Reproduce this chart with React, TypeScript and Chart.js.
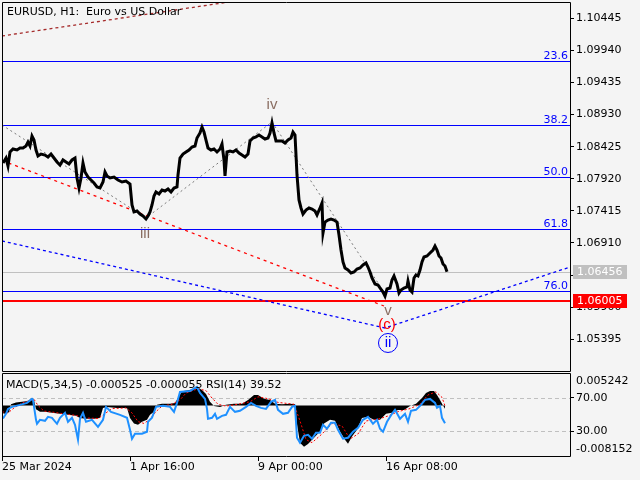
import React, { useEffect, useRef } from "react";
import { Chart, registerables } from "chart.js";

Chart.register(...registerables);

// ---------------- data ----------------
const chartTitle = "EURUSD, H1:  Euro vs US Dollar";
const subTitle = "MACD(5,34,5) -0.000525 -0.000055 RSI(14) 39.52";

const barMin = 0;
const barMax = 568;
const priceMin = 1.048805;
const priceMax = 1.107014;

const xTickBars = [0, 128, 256, 384];
const xTickLabels = ["25 Mar 2024", "1 Apr 16:00", "9 Apr 00:00", "16 Apr 08:00"];

const yTickPrices = [1.10445, 1.0994, 1.09435, 1.0893, 1.08425, 1.0792, 1.07415, 1.0691, 1.06405, 1.059, 1.05395];

const priceBars = [
  1, 4, 6, 8, 11, 15, 18, 21, 24, 26, 28, 30, 32, 34, 36, 39, 43, 46, 49, 52,
  55, 58, 61, 64, 67, 70, 73, 75, 77, 79, 81, 83, 86, 89, 92, 95, 98, 101, 103, 105,
  108, 112, 116, 120, 124, 128, 130, 132, 135, 138, 141, 144, 146, 148, 150, 152, 154, 157, 160, 163,
  166, 169, 172, 175, 176, 178, 181, 184, 187, 190, 193, 195, 198, 200, 202, 204, 206, 209, 212, 215,
  218, 220, 222, 223, 225, 228, 231, 234, 237, 240, 243, 246, 248, 251, 254, 257, 260, 263, 266, 268,
  270, 272, 274, 277, 280, 283, 286, 289, 291, 293, 295, 297, 299, 301, 304, 307, 310, 313, 315, 318,
  320, 321, 323, 326, 329, 332, 335, 337, 339, 341, 343, 346, 349, 352, 355, 358, 361, 364, 366, 368,
  370, 373, 376, 378, 381, 383, 385, 388, 390, 392, 395, 397, 399, 402, 405, 406, 408, 410, 412, 414,
  416, 418, 420, 422, 425, 428, 431, 433, 435, 437, 439, 441, 443, 445,
];
const priceClose = [
  1.08169, 1.08247, 1.08121, 1.08342, 1.08389, 1.08373, 1.08405, 1.08405, 1.08436, 1.08499, 1.08436, 1.08593, 1.0853, 1.08373, 1.08279, 1.0831, 1.08294, 1.08263, 1.0831, 1.08247,
  1.08184, 1.08137, 1.08216, 1.08184, 1.08153, 1.08216, 1.08247, 1.07933, 1.07775, 1.07933, 1.08169, 1.08027, 1.07948, 1.07901, 1.07854, 1.07791, 1.07775, 1.0787, 1.08027, 1.07964,
  1.07933, 1.07948, 1.07901, 1.0787, 1.07885, 1.07838, 1.07508, 1.07398, 1.07413, 1.07366, 1.07335, 1.07288, 1.07335, 1.07398, 1.07508, 1.07649, 1.07712, 1.07681, 1.07744, 1.07728,
  1.0776, 1.07712, 1.07775, 1.07791, 1.0798, 1.08247, 1.0831, 1.08342, 1.08373, 1.0842, 1.08436, 1.08562, 1.08641, 1.08735, 1.08656, 1.0853, 1.08405, 1.08373, 1.08389, 1.08342,
  1.08389, 1.08468, 1.08216, 1.07964, 1.08342, 1.08357, 1.08342, 1.08373, 1.08326, 1.08294, 1.08263, 1.0831, 1.08515, 1.08562, 1.08578, 1.08609, 1.08578, 1.08546, 1.08562, 1.08641,
  1.08798, 1.08641, 1.08515, 1.08515, 1.08515, 1.08483, 1.0853, 1.08562, 1.08656, 1.08609, 1.0798, 1.07587, 1.07461, 1.07366, 1.07429, 1.07461, 1.07445, 1.07413, 1.07351, 1.07461,
  1.07539, 1.07067, 1.0724, 1.07272, 1.07288, 1.07272, 1.0724, 1.07036, 1.068, 1.06611, 1.06517, 1.06485, 1.06438, 1.06454, 1.06501, 1.06517, 1.06564, 1.06595, 1.06532, 1.06454,
  1.06359, 1.06265, 1.06249, 1.06202, 1.06139, 1.06076, 1.06186, 1.06202, 1.06328, 1.06391, 1.06265, 1.06123, 1.06171, 1.06202, 1.06218, 1.06312, 1.06171, 1.06139, 1.06359, 1.06407,
  1.06391, 1.06485, 1.06611, 1.0669, 1.06706, 1.06753, 1.068, 1.06863, 1.068, 1.06706, 1.06674, 1.0658, 1.06548, 1.06456,
];

const fibLabels = ["23.6", "38.2", "50.0", "61.8", "76.0"];
const fibPrices = [1.09769, 1.08763, 1.07947, 1.07132, 1.06154];
const bidPrice = 1.06456;
const alertPrice = 1.06005;

const waveBars = [0, 144, 270, 384];
const wavePrices = [1.08766, 1.07303, 1.08814, 1.06092];
const redTrendBars = [0, 382];
const redTrendPrices = [1.08208, 1.05919];
const blueTrendBars = [0, 383, 568];
const blueTrendPrices = [1.06942, 1.05573, 1.06532];
const brownTrendBars = [0, 300];
const brownTrendPrices = [1.10167, 1.10874];

const waveLabelTexts = ["iii", "iv", "v", "(c)", "ii"];
const waveLabelBars = [143, 270, 386, 385, 386];
const waveLabelPrices = [1.07052, 1.09081, 1.0584, 1.0562, 1.05337];

// indicator panel
const rsiBars = [
  1, 4, 6, 10, 18, 25, 30, 31, 34, 35, 38, 43, 46, 50, 55, 58, 63, 66, 70, 73,
  75, 76, 78, 81, 84, 90, 96, 101, 104, 109, 118, 125, 128, 130, 133, 140, 145, 146, 150, 154,
  161, 168, 172, 175, 178, 188, 195, 198, 203, 205, 206, 210, 213, 215, 220, 224, 228, 233, 238, 244,
  249, 254, 259, 264, 269, 273, 276, 281, 286, 290, 293, 295, 298, 302, 306, 310, 314, 318, 321, 325,
  329, 333, 336, 341, 346, 351, 356, 361, 366, 371, 375, 378, 381, 385, 390, 393, 398, 403, 406, 409,
  414, 419, 423, 428, 433, 435, 438, 440, 443,
];
const rsiValues = [
  45.2, 50.8, 56.8, 59.2, 61.6, 64.0, 68.8, 67.6, 43.6, 38.8, 43.6, 42.4, 47.2, 46.0, 38.8, 46.0, 52.0, 41.2, 46.0, 37.6,
  25.6, 19.6, 44.8, 52.0, 41.2, 43.6, 35.2, 43.6, 59.2, 53.2, 49.6, 46.0, 31.6, 20.8, 26.8, 26.8, 29.2, 41.2, 46.0, 59.2,
  60.4, 59.2, 53.2, 64.0, 77.2, 78.4, 83.2, 76.0, 68.8, 56.8, 44.8, 46.0, 50.8, 44.8, 48.4, 49.6, 59.2, 53.2, 54.4, 59.2,
  64.0, 60.4, 58.0, 56.8, 65.2, 67.6, 55.6, 50.8, 52.0, 59.2, 60.4, 22.0, 16.0, 24.4, 25.6, 20.8, 28.0, 28.0, 37.6, 32.8,
  40.0, 40.0, 31.6, 20.8, 22.0, 29.2, 34.0, 43.6, 47.2, 38.8, 43.6, 32.8, 29.2, 41.2, 50.8, 55.6, 44.8, 50.8, 41.2, 54.4,
  55.6, 61.6, 67.6, 68.8, 64.0, 58.0, 60.4, 46.0, 39.52,
];

const macdBars = [
  0, 3, 7, 9, 14, 20, 26, 30, 32, 34, 38, 43, 50, 58, 66, 74, 78, 84, 92, 98,
  101, 105, 115, 125, 128, 132, 136, 140, 145, 148, 152, 155, 160, 168, 173, 176, 180, 188, 195, 200,
  204, 208, 212, 218, 224, 232, 240, 246, 252, 256, 262, 268, 273, 280, 288, 293, 295, 298, 302, 306,
  312, 318, 322, 328, 333, 338, 343, 346, 350, 355, 360, 366, 372, 378, 384, 390, 396, 402, 408, 414,
  420, 424, 428, 432, 435, 438, 441, 443,
];
const macdValues = [
  -0.0012, -0.00135, -0.0011, 0.0002, 0.0005, 0.0006, 0.00074, 0.00122, 0.0009, -0.0006, -0.00103, -0.00103, -0.00119, -0.00135, -0.0015, -0.00167, -0.002, -0.00215, -0.00215, -0.002,
  -0.0004, -0.00023, -0.00039, -0.00039, -0.002, -0.0029, -0.00312, -0.00264, -0.00232, -0.0015, -0.00103, 0.0001, 0.00026, 0.00026, 0.0004, 0.00122, 0.0023, 0.00251, 0.00299, 0.00251,
  0.00186, 0.0006, -0.0001, -0.00023, 0.0001, 0.00026, 0.00026, 0.0009, 0.0017, 0.0017, 0.0011, 0.0009, 0.00026, 0.0002, 0.00026, 0.0002, -0.003, -0.006, -0.00666, -0.0062,
  -0.00521, -0.0042, -0.0029, -0.00232, -0.00248, -0.0042, -0.00553, -0.00617, -0.005, -0.00392, -0.002, -0.00183, -0.00232, -0.00232, -0.00135, -0.00119, -0.00071, -0.00071, -0.0001, 0.00026,
  0.0012, 0.002, 0.00235, 0.00235, 0.0017, 0.0009, 0.0, -0.000525,
];

const signalBars = [
  0, 6, 12, 20, 28, 32, 36, 42, 52, 62, 74, 82, 96, 104, 110, 124, 130, 136, 142, 148,
  154, 160, 170, 178, 184, 196, 204, 210, 216, 224, 236, 248, 256, 266, 276, 292, 298, 304, 310, 320,
  330, 340, 348, 356, 364, 376, 386, 396, 408, 418, 426, 434, 440, 443,
];
const signalValues = [
  -0.001, -0.0012, -0.0004, 0.0004, 0.0008, 0.001, 0.0, -0.0009, -0.0011, -0.00135, -0.0016, -0.002, -0.0021, -0.0012, -0.0005, -0.0004, -0.0012, -0.0026, -0.0029, -0.0022,
  -0.001, -0.0001, 0.0002, 0.0009, 0.002, 0.0027, 0.0024, 0.0012, 0.0002, -0.0001, 0.0002, 0.0006, 0.0014, 0.0011, 0.0005, 0.0002, -0.0025, -0.0055, -0.006, -0.0046,
  -0.0029, -0.0033, -0.0054, -0.0046, -0.0025, -0.0022, -0.0017, -0.001, -0.0005, 0.0002, 0.0017, 0.0022, 0.0013, -0.000055,
];

const rsiLevels = [70, 30];
const macdMin = -0.008152;
const macdMax = 0.005242;
const subTickValues = [90.4, 70, 30, 8.2];
const subTickLabels = ["0.005242", "70.00", "30.00", "-0.008152"];

// ---------------- styles ----------------
const BG = "#f4f4f4";
const FONT = "'DejaVu Sans', Verdana, sans-serif";
const LABEL_FONT = "'Liberation Sans', Arial, sans-serif";
const FIB_LINE = "#0000ff";
const FIB_TEXT = "#0000ff";
const WAVE_COLORS = ["#8a6e62", "#8a6e62", "#8a6e62", "#ff0000", "#0000ff"];

const pts = (xs: number[], ys: number[]) => xs.map((x, i) => ({ x, y: ys[i] }));

function hline(ctx: CanvasRenderingContext2D, a: any, y: number) {
  ctx.beginPath();
  ctx.moveTo(a.left, y);
  ctx.lineTo(a.right, y);
  ctx.stroke();
}

const mainDecor = {
  id: "mainDecor",
  beforeDraw(chart: any) {
    const { ctx, width, height } = chart;
    ctx.save();
    ctx.fillStyle = BG;
    ctx.fillRect(0, 0, width, height);
    ctx.restore();
  },
  beforeDatasetsDraw(chart: any) {
    const { ctx, chartArea: a, scales } = chart;
    const ys = scales.y;
    const crisp = (v: number) => Math.round(ys.getPixelForValue(v)) + 0.5;
    ctx.save();
    ctx.lineWidth = 1;
    ctx.strokeStyle = "#c0c0c0";
    hline(ctx, a, crisp(bidPrice));
    ctx.strokeStyle = FIB_LINE;
    fibPrices.forEach((p) => hline(ctx, a, crisp(p)));
    ctx.strokeStyle = "#ff0000";
    ctx.lineWidth = 2;
    hline(ctx, a, Math.round(ys.getPixelForValue(alertPrice)));
    ctx.restore();
  },
  afterDatasetsDraw(chart: any) {
    const { ctx, chartArea: a, scales } = chart;
    const xs = scales.x;
    const ys = scales.y;
    const crisp = (v: number) => Math.round(ys.getPixelForValue(v)) + 0.5;
    ctx.save();
    // fib labels
    ctx.font = `11px ${FONT}`;
    ctx.fillStyle = FIB_TEXT;
    ctx.textAlign = "right";
    ctx.textBaseline = "alphabetic";
    fibPrices.forEach((p, i) => ctx.fillText(fibLabels[i], a.right - 2, crisp(p) - 3));
    // wave labels
    ctx.font = `15px ${LABEL_FONT}`;
    ctx.textAlign = "center";
    ctx.textBaseline = "middle";
    waveLabelTexts.forEach((t, i) => {
      const px = xs.getPixelForValue(waveLabelBars[i]);
      const py = ys.getPixelForValue(waveLabelPrices[i]);
      ctx.fillStyle = WAVE_COLORS[i];
      ctx.fillText(t, px, py);
      if (t === "ii") {
        ctx.strokeStyle = WAVE_COLORS[i];
        ctx.lineWidth = 1;
        ctx.beginPath();
        ctx.arc(px, py, 9.5, 0, Math.PI * 2);
        ctx.stroke();
      }
    });
    // title
    ctx.font = `11px ${FONT}`;
    ctx.fillStyle = "#000";
    ctx.textAlign = "left";
    ctx.fillText(chartTitle, 7, 12);
    // frame
    ctx.strokeStyle = "#000";
    ctx.lineWidth = 1;
    ctx.beginPath();
    ctx.moveTo(a.left + 0.5, a.top + 0.5);
    ctx.lineTo(a.right + 0.5, a.top + 0.5);
    ctx.lineTo(a.right + 0.5, a.bottom - 0.5);
    ctx.lineTo(a.left + 0.5, a.bottom - 0.5);
    ctx.closePath();
    ctx.stroke();
    // price boxes on the axis
    const boxes = [
      { v: bidPrice, c: "#c0c0c0" },
      { v: alertPrice, c: "#ff0000" },
    ];
    boxes.forEach((b) => {
      const py = Math.round(ys.getPixelForValue(b.v));
      ctx.fillStyle = b.c;
      ctx.fillRect(a.right + 3, py - 7, 54, 14);
      ctx.fillStyle = "#ffffff";
      ctx.textAlign = "left";
      ctx.textBaseline = "middle";
      ctx.fillText(b.v.toFixed(5), a.right + 7, py);
    });
    ctx.restore();
  },
};

const subDecor = {
  id: "subDecor",
  beforeDraw(chart: any) {
    const { ctx, width, height } = chart;
    ctx.save();
    ctx.fillStyle = BG;
    ctx.fillRect(0, 0, width, height);
    ctx.restore();
  },
  beforeDatasetsDraw(chart: any) {
    const { ctx, chartArea: a, scales } = chart;
    const ys = scales.y;
    ctx.save();
    ctx.strokeStyle = "#c0c0c0";
    ctx.lineWidth = 1;
    ctx.setLineDash([4, 3]);
    rsiLevels.forEach((v) => hline(ctx, a, Math.round(ys.getPixelForValue(v)) + 0.5));
    ctx.restore();
  },
  afterDatasetsDraw(chart: any) {
    const { ctx, chartArea: a } = chart;
    ctx.save();
    ctx.font = `11px ${FONT}`;
    ctx.fillStyle = "#000";
    ctx.textAlign = "left";
    ctx.textBaseline = "middle";
    ctx.fillText(subTitle, 6, 13);
    ctx.strokeStyle = "#000";
    ctx.lineWidth = 1;
    ctx.beginPath();
    ctx.moveTo(a.left + 0.5, a.top + 0.5);
    ctx.lineTo(a.right + 0.5, a.top + 0.5);
    ctx.lineTo(a.right + 0.5, a.bottom + 0.5);
    ctx.lineTo(a.left + 0.5, a.bottom + 0.5);
    ctx.closePath();
    ctx.stroke();
    ctx.restore();
  },
};

const common = {
  responsive: false,
  animation: false as const,
  devicePixelRatio: 1,
  events: [] as any[],
  plugins: { legend: { display: false }, tooltip: { enabled: false } },
  elements: { point: { radius: 0 }, line: { tension: 0 } },
};

function MainPanel() {
  const ref = useRef<HTMLCanvasElement>(null);
  useEffect(() => {
    const chart = new Chart(ref.current as HTMLCanvasElement, {
      type: "line",
      data: {
        datasets: [
          { data: pts(priceBars, priceClose), borderColor: "#000", borderWidth: 3, order: 0 } as any,
          { data: pts(waveBars, wavePrices), borderColor: "#7a7a7a", borderWidth: 1, borderDash: [2, 3], order: 1 },
          { data: pts(redTrendBars, redTrendPrices), borderColor: "#ff0000", borderWidth: 1.3, borderDash: [3, 4], order: 2 },
          { data: pts(blueTrendBars, blueTrendPrices), borderColor: "#0000ff", borderWidth: 1.3, borderDash: [3, 3], order: 3 },
          { data: pts(brownTrendBars, brownTrendPrices), borderColor: "#a52a2a", borderWidth: 1.3, borderDash: [3, 3], order: 4 },
        ],
      },
      options: {
        ...common,
        layout: { padding: { left: 2, top: 2, right: 0, bottom: 0 } },
        scales: {
          x: { type: "linear", min: barMin, max: barMax, display: false },
          y: {
            type: "linear",
            position: "right",
            min: priceMin,
            max: priceMax,
            afterBuildTicks: (s: any) => {
              s.ticks = yTickPrices.map((v) => ({ value: v }));
            },
            afterFit: (s: any) => {
              s.width = 70;
              s.paddingTop = 0;
              s.paddingBottom = 0;
            },
            ticks: {
              autoSkip: false,
              padding: 2,
              color: "#000",
              font: { family: FONT, size: 11 },
              callback: (v: any) => Number(v).toFixed(5),
            },
            grid: { drawOnChartArea: false, drawTicks: true, tickLength: 4, color: "#000" },
            border: { display: false },
          },
        },
      } as any,
      plugins: [mainDecor],
    });
    return () => chart.destroy();
  }, []);
  return <canvas ref={ref} width={640} height={372} style={{ display: "block", width: 640, height: 372 }} />;
}

function SubPanel() {
  const ref = useRef<HTMLCanvasElement>(null);
  useEffect(() => {
    const chart = new Chart(ref.current as HTMLCanvasElement, {
      type: "line",
      data: {
        datasets: [
          { data: pts(rsiBars, rsiValues), yAxisID: "y", borderColor: "#1e90ff", borderWidth: 2, order: 0 } as any,
          { data: pts(signalBars, signalValues), yAxisID: "ym", borderColor: "#ff0000", borderWidth: 1, borderDash: [2, 2], order: 1 },
          {
            data: pts(macdBars, macdValues),
            yAxisID: "ym",
            borderColor: "rgba(0,0,0,0)",
            borderWidth: 0,
            backgroundColor: "#000",
            fill: { value: 0 },
            order: 2,
          },
        ],
      },
      options: {
        ...common,
        layout: { padding: { left: 2, top: 1, right: 0, bottom: 0 } },
        scales: {
          x: {
            type: "linear",
            min: barMin,
            max: barMax,
            afterBuildTicks: (s: any) => {
              s.ticks = xTickBars.map((v) => ({ value: v }));
            },
            afterFit: (s: any) => {
              s.height = 24;
              s.paddingLeft = 0;
              s.paddingRight = 0;
            },
            ticks: {
              autoSkip: false,
              maxRotation: 0,
              align: "start",
              padding: 0,
              color: "#000",
              font: { family: FONT, size: 11 },
              callback: (_v: any, i: number) => xTickLabels[i],
            },
            grid: { drawOnChartArea: false, drawTicks: true, tickLength: 5, color: "#000" },
            border: { display: false },
          },
          y: {
            type: "linear",
            position: "right",
            min: 0,
            max: 100,
            afterBuildTicks: (s: any) => {
              s.ticks = subTickValues.map((v) => ({ value: v }));
            },
            afterFit: (s: any) => {
              s.width = 70;
              s.paddingTop = 0;
              s.paddingBottom = 0;
            },
            ticks: {
              autoSkip: false,
              padding: 2,
              color: "#000",
              font: { family: FONT, size: 11 },
              callback: (_v: any, i: number) => subTickLabels[i],
            },
            grid: {
              drawOnChartArea: false,
              drawTicks: true,
              tickLength: 4,
              color: (ctx: any) => (ctx.index === 1 || ctx.index === 2 ? "#000" : "rgba(0,0,0,0)"),
            },
            border: { display: false },
          },
          ym: { type: "linear", display: false, min: macdMin, max: macdMax },
        },
      } as any,
      plugins: [subDecor],
    });
    return () => chart.destroy();
  }, []);
  return <canvas ref={ref} width={640} height={108} style={{ display: "block", width: 640, height: 108 }} />;
}

export default function App() {
  return (
    <div style={{ position: "fixed", left: 0, top: 0, width: 640, height: 480, background: BG, overflow: "hidden" }}>
      <div style={{ position: "absolute", left: 0, top: 0 }}>
        <MainPanel />
      </div>
      <div style={{ position: "absolute", left: 0, top: 372 }}>
        <SubPanel />
      </div>
    </div>
  );
}
